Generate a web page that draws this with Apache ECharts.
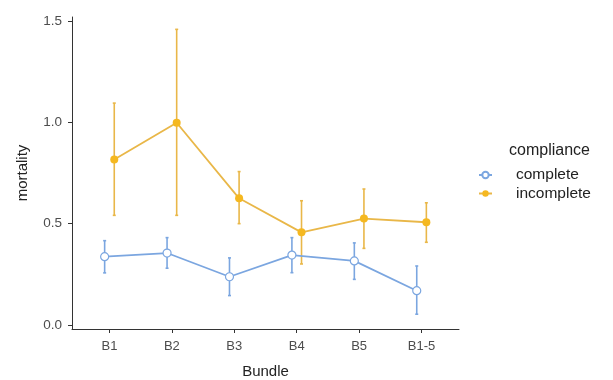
<!DOCTYPE html>
<html>
<head>
<meta charset="utf-8">
<script src="https://cdn.jsdelivr.net/npm/echarts@6/dist/echarts.min.js"></script>
<style>
  html, body { margin: 0; padding: 0; background: #fff; }
  #chart { width: 613px; height: 380px; }
</style>
</head>
<body>
<div id="chart"></div>
<script>
// data
const categories = ['B1', 'B2', 'B3', 'B4', 'B5', 'B1-5'];
const yTicks = [0, 0.5, 1, 1.5];

const completeMean = [0.337, 0.355, 0.238, 0.345, 0.316, 0.169];
const completeLow = [0.257, 0.280, 0.145, 0.258, 0.225, 0.053];
const completeHigh = [0.416, 0.431, 0.331, 0.431, 0.405, 0.291];

const incompleteMean = [0.817, 0.998, 0.625, 0.457, 0.525, 0.507];
const incompleteLow = [0.541, 0.541, 0.500, 0.301, 0.378, 0.408];
const incompleteHigh = [1.095, 1.459, 0.757, 0.613, 0.671, 0.603];

const dodge = 0.077;
const blue = '#7ba6e0';
const orange = '#e9b748';
const orangeFill = '#f5b820';
const font = 'Liberation Sans, Arial, sans-serif';

function points(mean, shift) {
  return mean.map((v, i) => [i + shift, v]);
}

function bars(low, high, shift) {
  return low.map((v, i) => [i + shift, v, high[i]]);
}

function errorBar(color) {
  return function (params, api) {
    const lo = api.coord([api.value(0), api.value(1)]);
    const hi = api.coord([api.value(0), api.value(2)]);
    const cap = 1.5;
    const style = { stroke: color, lineWidth: 1.6 };
    return {
      type: 'group',
      children: [
        { type: 'line', shape: { x1: lo[0], y1: lo[1], x2: hi[0], y2: hi[1] }, style: style },
        { type: 'line', shape: { x1: lo[0] - cap, y1: lo[1], x2: lo[0] + cap, y2: lo[1] }, style: style },
        { type: 'line', shape: { x1: hi[0] - cap, y1: hi[1], x2: hi[0] + cap, y2: hi[1] }, style: style }
      ]
    };
  };
}

const chart = echarts.init(document.getElementById('chart'));
chart.setOption({
  animation: false,
  backgroundColor: '#fff',
  textStyle: { fontFamily: font },
  grid: { left: 72, right: 154, top: 17, bottom: 51, containLabel: false, outerBoundsMode: 'none' },
  title: {
    text: 'compliance',
    left: 509,
    top: 143,
    padding: 0,
    textStyle: { fontFamily: font, fontSize: 16, fontWeight: 'normal', color: '#222' }
  },
  legend: {
    orient: 'vertical',
    left: 478,
    top: 167,
    padding: 0,
    itemWidth: 13,
    itemHeight: 8,
    itemGap: 2.5,
    data: ['complete', 'incomplete'],
    textStyle: { fontFamily: font, fontSize: 15.5, color: '#222', padding: [0, 0, 0, 19] }
  },
  xAxis: {
    type: 'value',
    min: -0.6,
    max: 5.6,
    name: 'Bundle',
    nameLocation: 'middle',
    nameGap: 35,
    nameTextStyle: { fontFamily: font, fontSize: 15, color: '#222' },
    axisLine: { onZero: false, lineStyle: { color: '#333', width: 1 } },
    axisTick: { length: 4, lineStyle: { color: '#333' }, customValues: [0, 1, 2, 3, 4, 5] },
    axisLabel: {
      customValues: [0, 1, 2, 3, 4, 5],
      formatter: v => categories[Math.round(v)] || '',
      margin: 11,
      fontFamily: font,
      fontSize: 13,
      color: '#4d4d4d'
    },
    splitLine: { show: false }
  },
  yAxis: {
    type: 'value',
    min: -0.02,
    max: 1.52,
    name: 'mortality',
    nameLocation: 'middle',
    nameGap: 42,
    nameTextStyle: { fontFamily: font, fontSize: 15, color: '#222' },
    axisLine: { show: true, onZero: false, lineStyle: { color: '#333', width: 1 } },
    axisTick: { show: true, length: 4, lineStyle: { color: '#333' }, customValues: yTicks },
    axisLabel: {
      customValues: yTicks,
      formatter: v => v.toFixed(1),
      margin: 10,
      fontFamily: font,
      fontSize: 13.5,
      color: '#4d4d4d'
    },
    splitLine: { show: false }
  },
  series: [
    {
      type: 'custom',
      name: 'complete error',
      renderItem: errorBar(blue),
      encode: { x: 0, y: [1, 2] },
      data: bars(completeLow, completeHigh, -dodge),
      z: 1
    },
    {
      type: 'custom',
      name: 'incomplete error',
      renderItem: errorBar(orange),
      encode: { x: 0, y: [1, 2] },
      data: bars(incompleteLow, incompleteHigh, dodge),
      z: 1
    },
    {
      type: 'line',
      name: 'complete',
      data: points(completeMean, -dodge),
      color: blue,
      symbol: 'circle',
      symbolSize: 8,
      showAllSymbol: true,
      lineStyle: { color: blue, width: 1.8 },
      itemStyle: { color: '#fff', borderColor: blue, borderWidth: 1.2 },
      z: 3
    },
    {
      type: 'line',
      name: 'incomplete',
      data: points(incompleteMean, dodge),
      color: orange,
      symbol: 'circle',
      symbolSize: 8,
      showAllSymbol: true,
      lineStyle: { color: orange, width: 1.8 },
      itemStyle: { color: orangeFill, borderColor: orangeFill, borderWidth: 0 },
      z: 3
    }
  ]
});
</script>
</body>
</html>
